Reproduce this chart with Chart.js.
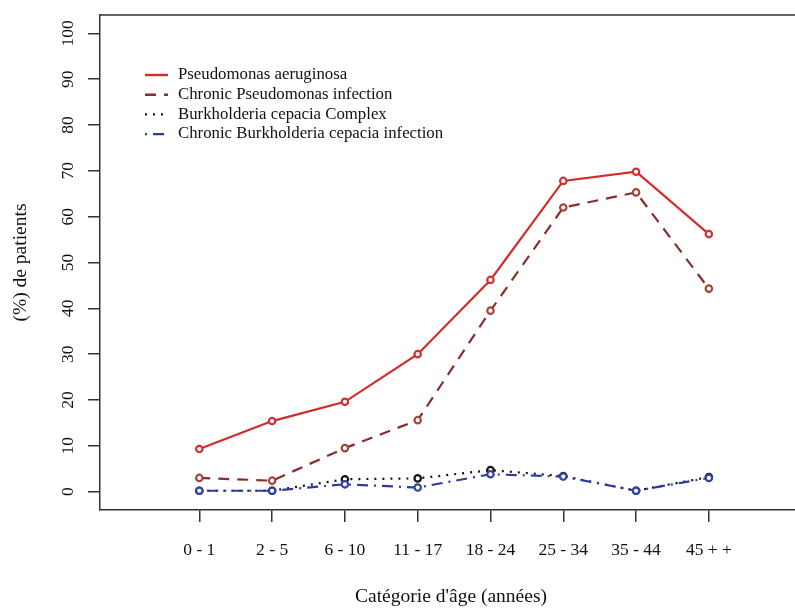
<!DOCTYPE html>
<html>
<head>
<meta charset="utf-8">
<script src="https://cdn.jsdelivr.net/npm/chart.js@4.4.0/dist/chart.umd.min.js"></script>
<style>
  html, body { margin: 0; padding: 0; background: #ffffff; }
  canvas { display: block; }
</style>
</head>
<body>
<canvas id="chart" width="795" height="608"></canvas>
<script>
// Age groups (x axis)
const categories = ["0 - 1", "2 - 5", "6 - 10", "11 - 17", "18 - 24", "25 - 34", "35 - 44", "45 + +"];

// Percentage of patients per age group
const pseudomonas        = [9.3, 15.4, 19.6, 30.0, 46.2, 67.8, 69.8, 56.2];
const chronicPseudomonas = [3.0, 2.4, 9.5, 15.6, 39.5, 62.0, 65.3, 44.3];
const burkholderia       = [0.2, 0.2, 2.7, 2.9, 4.7, 3.4, 0.2, 3.2];
const chronicBurkholderia= [0.2, 0.2, 1.6, 0.9, 3.8, 3.3, 0.2, 3.0];

// Y axis tick values
const yTicks = [0, 10, 20, 30, 40, 50, 60, 70, 80, 90, 100];

const seriesNames = [
  "Pseudomonas aeruginosa",
  "Chronic Pseudomonas infection",
  "Burkholderia cepacia Complex",
  "Chronic Burkholderia cepacia infection"
];

const SERIF = '"Liberation Serif", "Times New Roman", serif';

function toPoints(values) {
  return values.map((v, i) => ({ x: i, y: v }));
}

const styles = [
  { line: "#d42a2a", point: "#cf3232", dash: [],            order: 1 },
  { line: "#8b2c2c", point: "#a0483a", dash: [11, 8],       order: 2 },
  { line: "#141414", point: "#141414", dash: [2, 6],        order: 4 },
  { line: "#2c3c9c", point: "#31459f", dash: [2, 6, 11, 6], order: 3 }
];

const seriesValues = [pseudomonas, chronicPseudomonas, burkholderia, chronicBurkholderia];

const datasets = seriesValues.map((values, k) => ({
  label: seriesNames[k],
  data: toPoints(values),
  borderColor: styles[k].line,
  borderWidth: 2.2,
  borderDash: styles[k].dash,
  pointRadius: 3.2,
  pointBorderWidth: 2.2,
  pointBorderColor: styles[k].point,
  pointBackgroundColor: "#ffffff",
  tension: 0,
  fill: false,
  order: styles[k].order
}));

// Frame top line, rotated y labels, axis titles and legend
const decorations = {
  id: "decorations",
  afterDraw(chart) {
    const { ctx, chartArea: a } = chart;
    const y = chart.scales.y;
    ctx.save();

    ctx.strokeStyle = "#333333";
    ctx.lineWidth = 1.5;
    ctx.setLineDash([]);
    ctx.beginPath();
    ctx.moveTo(a.left, a.top);
    ctx.lineTo(a.right, a.top);
    ctx.stroke();

    ctx.fillStyle = "#111111";
    ctx.font = "17.5px " + SERIF;
    ctx.textAlign = "center";
    ctx.textBaseline = "middle";
    y.ticks.forEach(t => {
      const py = y.getPixelForValue(t.value);
      ctx.save();
      ctx.translate(68, py);
      ctx.rotate(-Math.PI / 2);
      ctx.fillText(String(t.value), 0, 0);
      ctx.restore();
    });

    ctx.font = "19.5px " + SERIF;
    ctx.save();
    ctx.translate(21, (a.top + a.bottom) / 2);
    ctx.rotate(-Math.PI / 2);
    ctx.fillText("(%) de patients", 0, 0);
    ctx.restore();
    ctx.fillText("Catégorie d'âge (années)", 451, 597);

    // legend
    ctx.font = "16.8px " + SERIF;
    ctx.textAlign = "left";
    chart.data.datasets.forEach((ds, k) => {
      const ly = 75 + k * 19.7;
      ctx.strokeStyle = ds.borderColor;
      ctx.lineWidth = 2.4;
      ctx.setLineDash(ds.borderDash);
      ctx.beginPath();
      ctx.moveTo(145, ly);
      ctx.lineTo(168, ly);
      ctx.stroke();
      ctx.setLineDash([]);
      ctx.fillStyle = "#111111";
      ctx.fillText(ds.label, 178, ly);
    });

    ctx.restore();
  }
};

new Chart(document.getElementById("chart"), {
  type: "line",
  data: { datasets },
  options: {
    responsive: false,
    animation: false,
    layout: { autoPadding: false, padding: { top: 15, right: 0, left: 0, bottom: 0 } },
    plugins: { legend: { display: false }, tooltip: { enabled: false } },
    scales: {
      x: {
        type: "linear",
        min: -1.364,
        max: 8.183,
        afterBuildTicks: s => { s.ticks = categories.map((_, i) => ({ value: i })); },
        ticks: {
          callback: v => categories[v] ?? "",
          font: { family: SERIF, size: 17.5 },
          color: "#111111",
          padding: 18,
          autoSkip: false,
          maxRotation: 0,
          minRotation: 0
        },
        grid: { drawOnChartArea: false, drawTicks: true, tickLength: 12, color: "#333333", lineWidth: 1.5 },
        border: { display: true, color: "#333333", width: 1.5 },
        afterFit: s => { s.height = 98; }
      },
      y: {
        type: "linear",
        min: -4,
        max: 104,
        afterBuildTicks: s => { s.ticks = yTicks.map(v => ({ value: v })); },
        ticks: { display: false },
        grid: { drawOnChartArea: false, drawTicks: true, tickLength: 12, color: "#333333", lineWidth: 1.5 },
        border: { display: true, color: "#333333", width: 1.5 },
        afterFit: s => { s.width = 100; }
      }
    }
  },
  plugins: [decorations]
});
</script>
</body>
</html>
